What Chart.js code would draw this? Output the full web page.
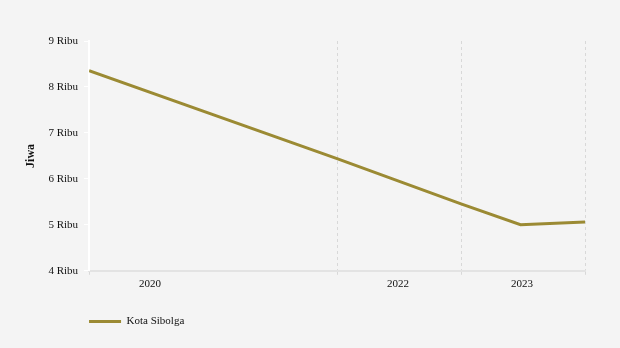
<!DOCTYPE html>
<html><head><meta charset="utf-8">
<script src="https://cdn.jsdelivr.net/npm/chart.js@4/dist/chart.umd.min.js"></script>
<style>html,body{margin:0;padding:0;background:#f4f4f4;}#wrap{width:620px;height:348px;}</style>
</head><body><div id="wrap"><canvas id="c" width="620" height="348"></canvas></div>
<script>
const seriesName = 'Kota Sibolga';
const xYears = [2020, 2022, 2023, 2023.48, 2024];
const values = [8352, 6440, 5456, 5004, 5063];
const xTickYears = [2020, 2022, 2023, 2024];
const xTickLabels = ['2020', '2022', '2023', ''];
const yTicks = [4000, 5000, 6000, 7000, 8000, 9000];

const color = '#9b8a33';
const font = {family: '"Liberation Serif", "DejaVu Serif", serif', size: 11};

const legendShift = {
  id: 'legendShift',
  afterLayout(chart) {
    const lg = chart.legend;
    const pad = lg.options.labels.padding;
    const d = chart.chartArea.left - (lg.left + pad);
    lg.left += d; lg.right += d;
  }
};

new Chart(document.getElementById('c'), {
  type: 'line',
  data: {
    datasets: [{
      label: seriesName,
      data: xYears.map((x, i) => ({x: x, y: values[i]})),
      borderColor: color,
      backgroundColor: color,
      borderWidth: 3,
      pointRadius: 0,
      pointStyle: 'line',
      tension: 0
    }]
  },
  plugins: [legendShift],
  options: {
    responsive: false,
    animation: false,
    layout: {padding: {top: 41, right: 35, left: 20, bottom: 11}},
    plugins: {
      legend: {
        position: 'bottom',
        align: 'start',
        labels: {usePointStyle: true, pointStyleWidth: 32, font: font, color: '#111', padding: 22}
      },
      tooltip: {enabled: false}
    },
    scales: {
      x: {
        type: 'linear',
        min: 2020, max: 2024,
        afterBuildTicks: (s) => { s.ticks = xTickYears.map(v => ({value: v})); },
        ticks: {
          font: font, color: '#111', labelOffset: 61, maxRotation: 0, autoSkip: false,
          callback: (v) => xTickLabels[xTickYears.indexOf(v)]
        },
        grid: {color: '#d8d8d8', tickLength: 4, lineWidth: 1},
        border: {color: '#e3e3e3', dash: [3, 3], width: 2}
      },
      y: {
        min: 4000, max: 9000,
        afterBuildTicks: (s) => { s.ticks = yTicks.map(v => ({value: v})); },
        ticks: {font: font, color: '#111', padding: 6, callback: (v) => (v / 1000) + ' Ribu'},
        grid: {drawOnChartArea: false, color: '#ffffff', tickLength: 5},
        border: {color: '#ffffff', width: 2},
        title: {display: true, text: 'Jiwa', font: {family: font.family, size: 12, weight: 'bold'}, color: '#111'}
      }
    }
  }
});
</script></body></html>
